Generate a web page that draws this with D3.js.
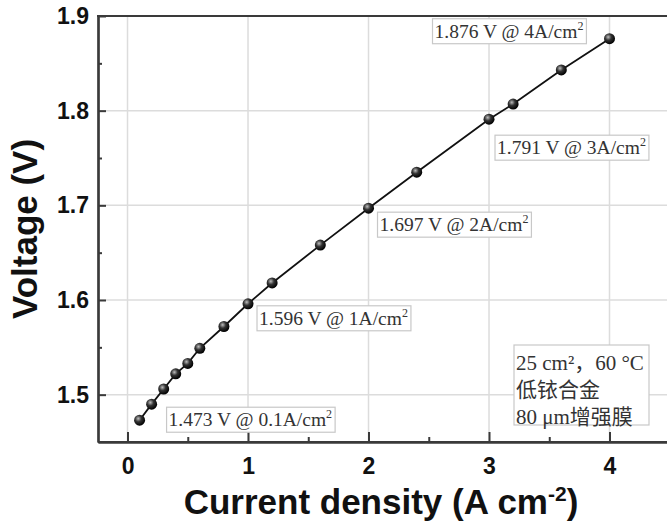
<!DOCTYPE html>
<html>
<head>
<meta charset="utf-8">
<script src="https://cdn.jsdelivr.net/npm/d3@7"></script>
<style>
  html, body { margin: 0; padding: 0; background: #fff; }
  svg { display: block; }
</style>
</head>
<body>
<svg id="chart" width="667" height="526"></svg>
<script>
// Polarization curve: cell voltage vs current density
const currentDensity = [0.1, 0.2, 0.3, 0.4, 0.5, 0.6, 0.8, 1.0, 1.2, 1.6, 2.0, 2.4, 3.0, 3.2, 3.6, 4.0];
const voltage        = [1.473, 1.490, 1.506, 1.522, 1.533, 1.549, 1.572, 1.596, 1.618, 1.658, 1.697, 1.735, 1.791, 1.807, 1.843, 1.876];

// Callouts: which point, voltage text, current text
const calloutIndex   = [0, 7, 10, 12, 15];
const calloutVoltage = ["1.473", "1.596", "1.697", "1.791", "1.876"];
const calloutCurrent = ["0.1", "1", "2", "3", "4"];

const xTicks = [0, 1, 2, 3, 4];
const yTicks = [1.5, 1.6, 1.7, 1.8, 1.9];
const xMinorTicks = [0.5, 1.5, 2.5, 3.5];
const yMinorTicks = [1.55, 1.65, 1.75, 1.85];

const noteLines = ["25 cm²，60 °C", "低铱合金", "80 μm增强膜"];

const svg = d3.select("#chart");
const plot = { left: 98, top: 16, bottom: 442 };
const W = 667;

const x = d3.scaleLinear().domain([-0.245, 4.5]).range([plot.left, 127.5 + 4.5 * 120.5]);
const y = d3.scaleLinear().domain([1.45, 1.9]).range([plot.bottom, plot.top]);

const defs = svg.append("defs");
const grad = defs.append("radialGradient").attr("id", "ball")
  .attr("cx", "38%").attr("cy", "35%").attr("r", "65%");
grad.append("stop").attr("offset", "0%").attr("stop-color", "#bdbdbd");
grad.append("stop").attr("offset", "45%").attr("stop-color", "#333");
grad.append("stop").attr("offset", "100%").attr("stop-color", "#000");

// grid
const grid = svg.append("g");
grid.selectAll("line.gx").data(xTicks).join("line")
  .attr("x1", d => x(d)).attr("x2", d => x(d))
  .attr("y1", plot.top).attr("y2", plot.bottom)
  .attr("stroke", "#dcdcdc").attr("stroke-width", 1.5);
grid.selectAll("line.gy").data(yTicks).join("line")
  .attr("x1", plot.left).attr("x2", W)
  .attr("y1", d => y(d)).attr("y2", d => y(d))
  .attr("stroke", "#dcdcdc").attr("stroke-width", 1.5);

// axes (ticks pointing inward)
const axisColor = "#3a3a3a";
const sans = "'Liberation Sans', Arial, sans-serif";
const xAxis = svg.append("g").attr("transform", `translate(0,${plot.bottom})`)
  .call(d3.axisBottom(x).tickValues(xTicks).tickSize(-10).tickFormat(d3.format("d")).tickSizeOuter(0));
xAxis.append("g").call(d3.axisBottom(x).tickValues(xMinorTicks).tickSize(-5).tickFormat("").tickSizeOuter(0));
const yAxis = svg.append("g").attr("transform", `translate(${plot.left},0)`)
  .call(d3.axisLeft(y).tickValues(yTicks).tickSize(-8).tickFormat(d3.format(".1f")).tickSizeOuter(0));
yAxis.append("g").call(d3.axisLeft(y).tickValues(yMinorTicks).tickSize(-4).tickFormat("").tickSizeOuter(0));

[xAxis, yAxis].forEach(a => {
  a.selectAll("path.domain").attr("stroke", axisColor).attr("stroke-width", 2.2);
  a.selectAll(".tick line").attr("stroke", axisColor).attr("stroke-width", 2);
  a.selectAll("text").attr("fill", "#111")
    .style("font-family", sans)
    .style("font-weight", "bold").style("font-size", "23px");
});
xAxis.selectAll(".tick text").attr("y", 16);
yAxis.selectAll(".tick text").attr("x", -9);
// bottom axis line and top frame run to the right edge
svg.append("line").attr("x1", plot.left).attr("x2", W).attr("y1", plot.bottom).attr("y2", plot.bottom)
  .attr("stroke", axisColor).attr("stroke-width", 2.2);
svg.append("line").attr("x1", plot.left - 1).attr("x2", W).attr("y1", plot.top).attr("y2", plot.top)
  .attr("stroke", axisColor).attr("stroke-width", 2.2);

// axis titles
svg.append("text")
  .attr("transform", `translate(37,${(plot.top + plot.bottom) / 2}) rotate(-90)`)
  .attr("text-anchor", "middle")
  .style("font-family", sans)
  .style("font-weight", "bold").style("font-size", "35px").attr("fill", "#111")
  .text("Voltage (V)");
const xt = svg.append("text")
  .attr("x", 381).attr("y", 514).attr("text-anchor", "middle")
  .style("font-family", sans)
  .style("font-weight", "bold").style("font-size", "35px").attr("fill", "#111");
xt.append("tspan").text("Current density (A cm");
xt.append("tspan").attr("dy", -13).style("font-size", "21px").text("-2");
xt.append("tspan").attr("dy", 13).text(")");

// curve
const pts = currentDensity.map((c, i) => [c, voltage[i]]);
svg.append("path").datum(pts)
  .attr("d", d3.line().x(d => x(d[0])).y(d => y(d[1])))
  .attr("fill", "none").attr("stroke", "#111").attr("stroke-width", 1.8);
svg.selectAll("circle.pt").data(pts).join("circle")
  .attr("cx", d => x(d[0])).attr("cy", d => y(d[1])).attr("r", 5.5)
  .attr("fill", "url(#ball)");

// callout labels, placed relative to their point
const offsets = [[27, -13], [9, 2], [9, 4], [6, 16], [-177, -20]];
const serif = "'Liberation Serif', 'Times New Roman', serif";
calloutIndex.forEach((idx, k) => {
  const px = x(currentDensity[idx]), py = y(voltage[idx]);
  const g = svg.append("g").attr("transform", `translate(${px + offsets[k][0]},${py + offsets[k][1]})`);
  const rect = g.append("rect");
  const t = g.append("text").attr("x", 2).attr("y", 19)
    .style("font-family", serif).style("font-size", "19.5px").attr("fill", "#333");
  t.append("tspan").text(`${calloutVoltage[k]} V @ ${calloutCurrent[k]}A/cm`);
  t.append("tspan").attr("dy", -8).style("font-size", "12px").text("2");
  const bb = t.node().getBBox();
  rect.attr("x", 0).attr("y", 0).attr("width", bb.width + 5).attr("height", 25)
    .attr("fill", "#fff").attr("stroke", "#c8c8c8").attr("stroke-width", 1.2);
});

// condition note
const note = svg.append("g").attr("transform", "translate(514,345)");
const noteRect = note.append("rect");
const nt = note.append("g");
noteLines.forEach((line, i) => {
  nt.append("text").attr("x", 2).attr("y", 25 + i * 27)
    .style("font-family", "'Liberation Serif', 'Noto Sans CJK SC', serif")
    .style("font-size", "21px").attr("fill", "#333").text(line);
});
const nb = nt.node().getBBox();
noteRect.attr("width", Math.max(nb.width + 6, 135)).attr("height", 80)
  .attr("fill", "#fff").attr("stroke", "#c8c8c8").attr("stroke-width", 1.2);
</script>
</body>
</html>
